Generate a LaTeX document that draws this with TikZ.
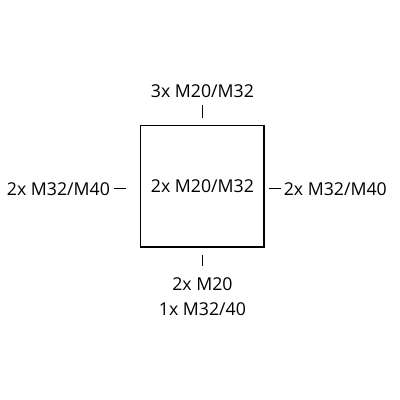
\documentclass[tikz,border=0pt]{standalone}
\usepackage{fontspec}
\setmainfont{Open Sans}
\usetikzlibrary{positioning}

\begin{document}
\begin{tikzpicture}[font=\fontsize{12.6}{17.9}\selectfont, node distance=3mm,
  lbl/.style={inner sep=0pt},
  tick/.style={line width=0.7pt}]
  \useasboundingbox (0,0) rectangle (10,-10);
  % Housing with entries
  \node[draw,line width=0.8pt,minimum width=3.08cm,minimum height=3.03cm] (box) at (5.06,-4.66) {};
  \node[lbl] (mid) at (box.center) {2x M20/M32};
  \node[lbl,above=6.75mm of box] (top) {3x M20/M32};
  \node[lbl,left=7.5mm of box.west,yshift=-0.06cm] (lft) {2x M32/M40};
  \node[lbl,right=4.75mm of box.east,yshift=-0.06cm] (rgt) {2x M32/M40};
  \node[lbl,align=center,below=7.5mm of box] (bot) {2x M20\\1x M32/40};

  % Ticks
  \draw[tick,shorten <=1.75mm,shorten >=1.75mm] (top.south) -- (box.north);
  \draw[tick,shorten <=1mm,shorten >=3.5mm] (lft.east) -- (lft.east -| box.west);
  \draw[tick,shorten <=1mm,shorten >=0.75mm] (rgt.west -| box.east) -- (rgt.west);
  \draw[tick,shorten <=1.75mm,shorten >=3mm] (box.south) -- (bot.north);
\end{tikzpicture}
\end{document}
